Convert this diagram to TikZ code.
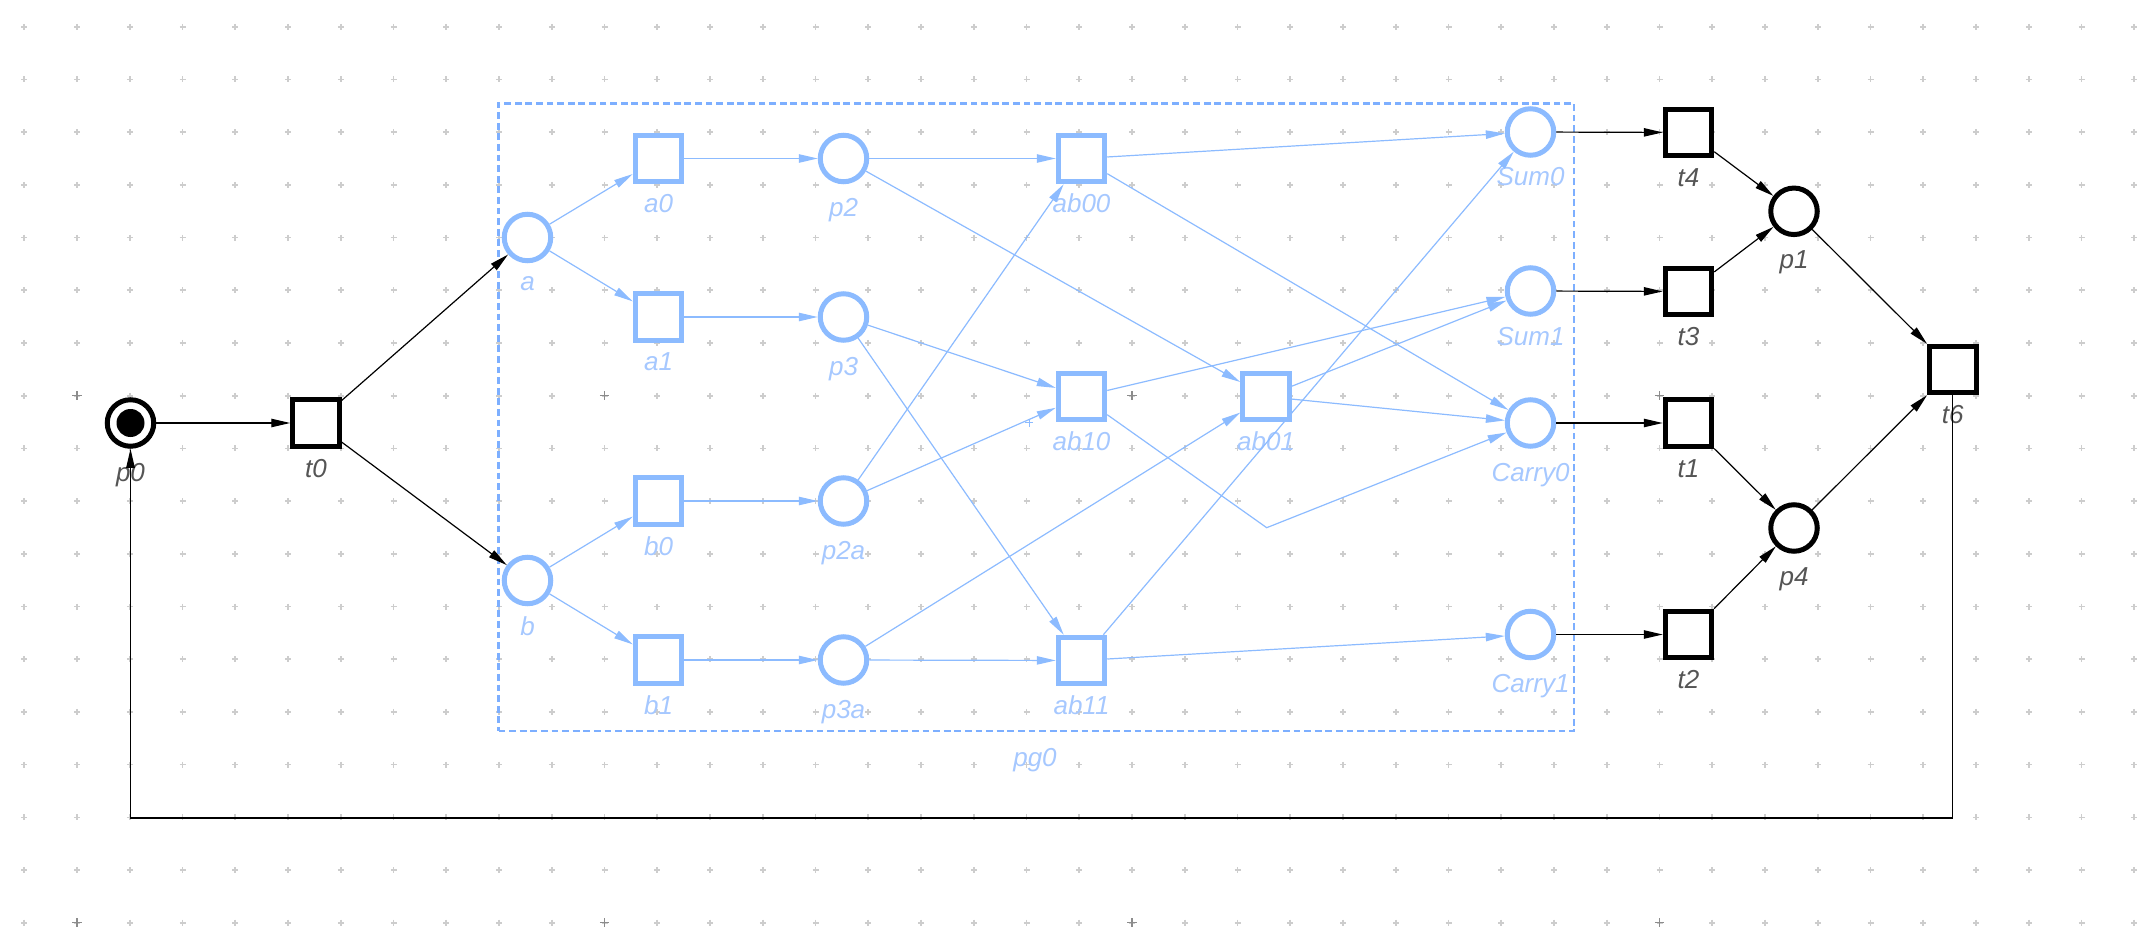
\documentclass[tikz,border=0pt]{standalone}
\usepackage{fontspec}
\setmainfont{Liberation Sans}
\usetikzlibrary{arrows.meta}

\definecolor{nodeblue}{RGB}{140,187,255}
\definecolor{arcblue}{RGB}{140,187,255}
\definecolor{lblblue}{RGB}{166,200,255}
\definecolor{boxblue}{RGB}{125,175,255}
\definecolor{lblgray}{RGB}{85,85,85}
\definecolor{gridlight}{RGB}{205,205,205}
\definecolor{griddark}{RGB}{140,140,140}

\tikzset{
  place/.style={circle, draw=black, line width=2.5pt, fill=white,
                minimum size=23.25pt, inner sep=0pt},
  trans/.style={rectangle, draw=black, line width=2.5pt, fill=white,
                minimum size=23.25pt, inner sep=0pt},
  bplace/.style={place, draw=nodeblue},
  btrans/.style={trans, draw=nodeblue},
  arc/.style={-{Triangle[length=9.5pt,width=4.2pt]}, line width=0.6pt, draw=black},
  barc/.style={arc, draw=arcblue},
  lbl/.style={font=\itshape\fontsize{13pt}{15pt}\selectfont, text=lblgray,
              anchor=base, inner sep=0pt},
  blbl/.style={lbl, text=lblblue},
  pgbox/.style={rectangle, draw=boxblue, line width=1.15pt,
                dash pattern=on 3.4pt off 1.9pt, inner sep=0pt},
  gridmark/.style={draw=gridlight, line width=0.8pt},
  gridmajor/.style={draw=griddark, line width=0.65pt}
}

\begin{document}
\begin{tikzpicture}[x=0.5pt,y=-0.5pt]
\useasboundingbox (0,0) rectangle (2137,941);

% background grid of small crosses
\foreach \i in {-1,...,39}{
  \foreach \k in {-7,...,10}{
    \path[gridmark] ({77+52.75*\i-3},{395.7+52.7*\k}) -- ++(6,0)
                    ({77+52.75*\i},{395.7+52.7*\k-3}) -- ++(0,6);
  }
}
\foreach \i in {0,10,20,30}{
  \foreach \k in {0,10}{
    \path[gridmajor] ({77+52.75*\i-4.7},{395.7+52.7*\k}) -- ++(9.4,0)
                     ({77+52.75*\i},{395.7+52.7*\k-4.7}) -- ++(0,9.4);
  }
}

% page group pg0
\node[pgbox, minimum width=537.9pt, minimum height=313.75pt] (pg0) at (1036.4,417.25) {};
\node[blbl] (lpg0) at (1035,766) {pg0};

% nodes outside the group
\node[place] (p0) at (130.5,423) {};
\fill[black] (p0.center) circle[radius=7pt];
\node[trans] (t0) at (316,423) {};
\node[trans] (t4) at (1688.5,132.5) {};
\node[trans] (t3) at (1688.5,291.5) {};
\node[trans] (t1) at (1688.5,423) {};
\node[trans] (t2) at (1688.5,634.5) {};
\node[place] (p1) at (1794,211.3) {};
\node[place] (p4) at (1794,528) {};
\node[trans] (t6) at (1952.8,369.5) {};

% nodes inside the group
\node[bplace] (a) at (527.5,237.5) {};
\node[bplace] (b) at (527.5,580.5) {};
\node[btrans] (a0) at (658.5,158.5) {};
\node[btrans] (a1) at (658.5,317) {};
\node[btrans] (b0) at (658.5,501) {};
\node[btrans] (b1) at (658.5,660) {};
\node[bplace] (p2) at (843.5,158.5) {};
\node[bplace] (p3) at (843.5,317) {};
\node[bplace] (p2a) at (843.5,501) {};
\node[bplace] (p3a) at (843.5,660) {};
\node[btrans] (ab00) at (1081.5,158.5) {};
\node[btrans] (ab10) at (1081.5,396.5) {};
\node[btrans] (ab11) at (1081.5,660.5) {};
\node[btrans] (ab01) at (1266,396.5) {};
\node[bplace] (Sum0) at (1530.5,132) {};
\node[bplace] (Sum1) at (1530.5,291) {};
\node[bplace] (Carry0) at (1530.5,423) {};
\node[bplace] (Carry1) at (1530.5,634.5) {};

\coordinate (bend) at (1266.7,527.7);
\coordinate (loopR) at (1952.8,818);
\coordinate (loopL) at (130.5,818);

% labels
\node[lbl] (lp0) at (130.5,481) {p0};
\node[lbl] (lt0) at (316,477) {t0};
\node[lbl] (lt4) at (1688.5,186.5) {t4};
\node[lbl] (lt3) at (1688.5,345.5) {t3};
\node[lbl] (lt1) at (1688.5,477) {t1};
\node[lbl] (lt2) at (1688.5,688.5) {t2};
\node[lbl] (lp1) at (1794,268.3) {p1};
\node[lbl] (lp4) at (1794,585) {p4};
\node[lbl] (lt6) at (1952.8,423.5) {t6};

\node[blbl] (la) at (527.5,290.5) {a};
\node[blbl] (lb) at (527.5,635) {b};
\node[blbl] (la0) at (658.5,212.5) {a0};
\node[blbl] (la1) at (658.5,371) {a1};
\node[blbl] (lb0) at (658.5,555) {b0};
\node[blbl] (lb1) at (658.5,714) {b1};
\node[blbl] (lp2) at (843.5,216.5) {p2};
\node[blbl] (lp3) at (843.5,375) {p3};
\node[blbl] (lp2a) at (843.5,559) {p2a};
\node[blbl] (lp3a) at (843.5,718) {p3a};
\node[blbl] (lab00) at (1081.5,212.5) {ab00};
\node[blbl] (lab10) at (1081.5,450.5) {ab10};
\node[blbl] (lab11) at (1081.5,714) {ab11};
\node[blbl] (lab01) at (1266,450.5) {ab01};
\node[blbl] (lSum0) at (1530.5,186) {Sum0};
\node[blbl] (lSum1) at (1530.5,345) {Sum1};
\node[blbl] (lCarry0) at (1530.5,481) {Carry0};
\node[blbl] (lCarry1) at (1530.5,692.5) {Carry1};

% small cross beside ab10
\path[draw=arcblue, line width=0.5pt] (1025.3,422.7) -- ++(8,0) (1029.3,418.7) -- ++(0,8);

% arcs inside the group
\draw[barc] (a) -- (a0);
\draw[barc] (a) -- (a1);
\draw[barc] (b) -- (b0);
\draw[barc] (b) -- (b1);
\draw[barc] (a0) -- (p2);
\draw[barc] (a1) -- (p3);
\draw[barc] (b0) -- (p2a);
\draw[barc] (b1) -- (p3a);
\draw[barc] (p2) -- (ab00);
\draw[barc] (p2) -- (ab01);
\draw[barc] (p3) -- (ab10);
\draw[barc] (p3) -- (ab11);
\draw[barc] (p2a) -- (ab00);
\draw[barc] (p2a) -- (ab10);
\draw[barc] (p3a) -- (ab11);
\draw[barc] (p3a) -- (ab01);
\draw[barc] (ab00) -- (Sum0);
\draw[barc] (ab00) -- (Carry0);
\draw[barc] (ab10) -- (Sum1);
\draw[barc] (ab10) -- (bend) -- (Carry0);
\draw[barc] (ab01) -- (Sum1);
\draw[barc] (ab01) -- (Carry0);
\draw[barc] (ab11) -- (Sum0);
\draw[barc] (ab11) -- (Carry1);

% arcs outside the group
\draw[arc] (p0) -- (t0);
\draw[arc] (t0) -- (a);
\draw[arc] (t0) -- (b);
\draw[arc] (Sum0) -- (t4);
\draw[arc] (Sum1) -- (t3);
\draw[arc] (Carry0) -- (t1);
\draw[arc] (Carry1) -- (t2);
\draw[arc] (t4) -- (p1);
\draw[arc] (t3) -- (p1);
\draw[arc] (t1) -- (p4);
\draw[arc] (t2) -- (p4);
\draw[arc] (p1) -- (t6);
\draw[arc] (p4) -- (t6);
\draw[arc] (t6) -- (loopR) -- (loopL) -- (p0);
\end{tikzpicture}
\end{document}
